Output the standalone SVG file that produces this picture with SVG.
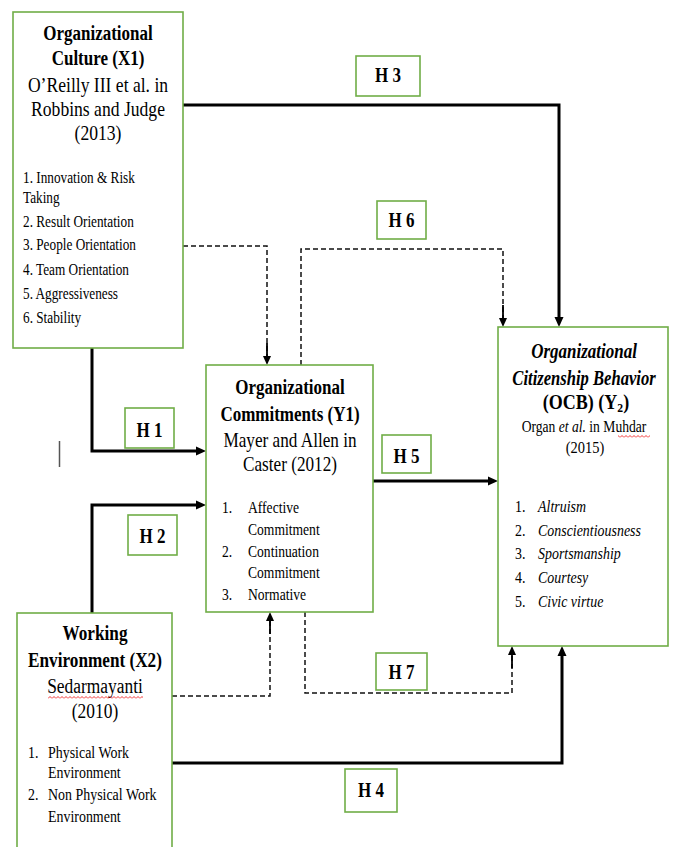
<svg xmlns="http://www.w3.org/2000/svg" width="675" height="847" viewBox="0 0 675 847">
<style>
.box{fill:#fff;stroke:#70AD47;stroke-width:1.6}
text{font-family:"Liberation Serif","Times New Roman",serif;fill:#000}
.h{font-size:20px;font-weight:bold;text-anchor:middle}
.hi{font-size:20px;font-weight:bold;font-style:italic;text-anchor:middle}
.r{font-size:20px;text-anchor:middle}
.r2{font-size:17px;text-anchor:middle}
.l{font-size:17px}
.i{font-style:italic}
.c{fill:none;stroke:#000;stroke-width:3}
.d{fill:none;stroke:#111;stroke-width:1.5;stroke-dasharray:5 3}
</style>
<defs>
<marker id="a" viewBox="-4 -5 10 10" refX="0" refY="0" markerWidth="10" markerHeight="10" markerUnits="userSpaceOnUse" orient="auto"><path d="M6 0 L-4 -4.5 L-4 4.5 Z" fill="#000"/></marker>
<marker id="ad" viewBox="-16 -5 22 10" refX="0" refY="0" markerWidth="22" markerHeight="10" markerUnits="userSpaceOnUse" orient="auto"><path d="M-16 0 H0" stroke="#000" stroke-width="1.8"/><path d="M6 0 L-3 -4 L-3 4 Z" fill="#000"/></marker>
<pattern id="sq" width="4" height="3" patternUnits="userSpaceOnUse"><path d="M0 2.5 L2 0.5 L4 2.5" fill="none" stroke="#e00" stroke-width="0.8"/></pattern>
</defs>

<g id="connectors">
<path class="c" d="M183 105 H559 V321" marker-end="url(#a)"/>
<path class="d" d="M301 365 V249 H503 V321" marker-end="url(#ad)"/>
<path class="d" d="M183 246 H267 V359" marker-end="url(#ad)"/>
<path class="c" d="M92 348 V451 H200" marker-end="url(#a)"/>
<path class="c" d="M92 613 V505 H200" marker-end="url(#a)"/>
<path class="c" d="M373 481 H492" marker-end="url(#a)"/>
<path class="d" d="M172 696 H270 V618" marker-end="url(#ad)"/>
<path class="d" d="M305 612 V693 H512 V652" marker-end="url(#ad)"/>
<path class="c" d="M172 763 H562 V652" marker-end="url(#a)"/>
<path d="M59.5 441 V467" stroke="#555" stroke-width="1.5"/>
</g>

<g id="X1">
<rect class="box" x="13" y="12" width="170" height="336"/>
<text class="h" transform="translate(98 40) scale(0.85 1)">Organizational</text>
<text class="h" transform="translate(98 65) scale(0.85 1)">Culture (X1)</text>
<text class="r" transform="translate(98 92) scale(0.88 1)">O’Reilly III et al. in</text>
<text class="r" transform="translate(98 116) scale(0.88 1)">Robbins and Judge</text>
<text class="r" transform="translate(98 140) scale(0.88 1)">(2013)</text>
<text class="l" transform="translate(23 183) scale(0.78 1)">1. Innovation &amp; Risk</text>
<text class="l" transform="translate(23 203) scale(0.78 1)">Taking</text>
<text class="l" transform="translate(23 227) scale(0.78 1)">2. Result Orientation</text>
<text class="l" transform="translate(23 250) scale(0.78 1)">3. People Orientation</text>
<text class="l" transform="translate(23 275) scale(0.78 1)">4. Team Orientation</text>
<text class="l" transform="translate(23 299) scale(0.78 1)">5. Aggressiveness</text>
<text class="l" transform="translate(23 323) scale(0.78 1)">6. Stability</text>
</g>

<g id="Y1">
<rect class="box" x="206" y="365" width="167" height="247"/>
<text class="h" transform="translate(290 394) scale(0.85 1)">Organizational</text>
<text class="h" transform="translate(290 421) scale(0.85 1)">Commitments (Y1)</text>
<text class="r" transform="translate(290 447) scale(0.86 1)">Mayer and Allen in</text>
<text class="r" transform="translate(290 471) scale(0.86 1)">Caster (2012)</text>
<text class="l" transform="translate(222 513) scale(0.8 1)">1.</text>
<text class="l" transform="translate(248 513) scale(0.8 1)">Affective</text>
<text class="l" transform="translate(248 535) scale(0.8 1)">Commitment</text>
<text class="l" transform="translate(222 557) scale(0.8 1)">2.</text>
<text class="l" transform="translate(248 557) scale(0.8 1)">Continuation</text>
<text class="l" transform="translate(248 578) scale(0.8 1)">Commitment</text>
<text class="l" transform="translate(222 600) scale(0.8 1)">3.</text>
<text class="l" transform="translate(248 600) scale(0.8 1)">Normative</text>
</g>

<g id="Y2">
<rect class="box" x="498" y="327" width="170" height="319"/>
<text class="hi" transform="translate(584 358) scale(0.85 1)">Organizational</text>
<text class="hi" transform="translate(584 385) scale(0.83 1)">Citizenship Behavior</text>
<text class="h" transform="translate(586 409) scale(0.9 1)">(OCB) (Y<tspan font-size="13" dy="3">2</tspan><tspan dy="-3">)</tspan></text>
<text class="r2" transform="translate(584 432) scale(0.8 1)">Organ <tspan class="i">et al.</tspan> in Muhdar</text>
<text class="r2" transform="translate(585 453) scale(0.85 1)">(2015)</text>
<rect x="618" y="435" width="32" height="3" fill="url(#sq)"/>
<text class="l" transform="translate(515 512) scale(0.82 1)">1.</text>
<text class="l i" transform="translate(538 512) scale(0.82 1)">Altruism</text>
<text class="l" transform="translate(515 536) scale(0.82 1)">2.</text>
<text class="l i" transform="translate(538 536) scale(0.82 1)">Conscientiousness</text>
<text class="l" transform="translate(515 559) scale(0.82 1)">3.</text>
<text class="l i" transform="translate(538 559) scale(0.82 1)">Sportsmanship</text>
<text class="l" transform="translate(515 583) scale(0.82 1)">4.</text>
<text class="l i" transform="translate(538 583) scale(0.82 1)">Courtesy</text>
<text class="l" transform="translate(515 607) scale(0.82 1)">5.</text>
<text class="l i" transform="translate(538 607) scale(0.82 1)">Civic virtue</text>
</g>

<g id="X2">
<rect class="box" x="17" y="613" width="155" height="245"/>
<text class="h" transform="translate(95 640) scale(0.86 1)">Working</text>
<text class="h" transform="translate(95 667) scale(0.86 1)">Environment (X2)</text>
<text class="r" transform="translate(95 693) scale(0.87 1)">Sedarmayanti</text>
<rect x="48" y="696" width="95" height="3" fill="url(#sq)"/>
<text class="r" transform="translate(95 718) scale(0.87 1)">(2010)</text>
<text class="l" transform="translate(28 758) scale(0.82 1)">1.</text>
<text class="l" transform="translate(48 758) scale(0.82 1)">Physical Work</text>
<text class="l" transform="translate(48 778) scale(0.82 1)">Environment</text>
<text class="l" transform="translate(28 800) scale(0.82 1)">2.</text>
<text class="l" transform="translate(48 800) scale(0.82 1)">Non Physical Work</text>
<text class="l" transform="translate(48 822) scale(0.82 1)">Environment</text>
</g>

<g id="H3"><rect class="box" x="356" y="56" width="64" height="40"/><text class="h" transform="translate(388 82) scale(0.85 1)">H 3</text></g>
<g id="H6"><rect class="box" x="377" y="201" width="49" height="38"/><text class="h" transform="translate(401.5 227) scale(0.85 1)">H 6</text></g>
<g id="H1"><rect class="box" x="125" y="408" width="49" height="40"/><text class="h" transform="translate(149.5 437) scale(0.85 1)">H 1</text></g>
<g id="H2"><rect class="box" x="128" y="515" width="49" height="40"/><text class="h" transform="translate(152.5 543) scale(0.85 1)">H 2</text></g>
<g id="H5"><rect class="box" x="382" y="435" width="49" height="38"/><text class="h" transform="translate(406.5 463) scale(0.85 1)">H 5</text></g>
<g id="H7"><rect class="box" x="376" y="653" width="51" height="37"/><text class="h" transform="translate(401.5 679) scale(0.85 1)">H 7</text></g>
<g id="H4"><rect class="box" x="345" y="769" width="52" height="43"/><text class="h" transform="translate(371 797) scale(0.85 1)">H 4</text></g>
</svg>
